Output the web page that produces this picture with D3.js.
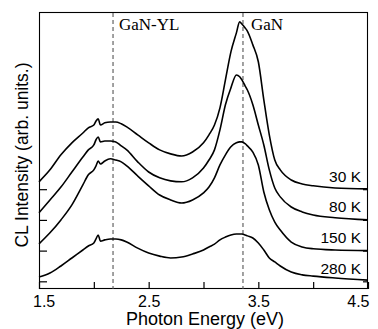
<!DOCTYPE html>
<html><head><meta charset="utf-8">
<script src="https://cdn.jsdelivr.net/npm/d3@7"></script>
<style>
html,body{margin:0;padding:0;background:#fff;}
svg{display:block;}
</style></head>
<body>
<svg id="chart" width="378" height="329"></svg>
<script>
// Photon energy grid (eV)
const energy = [1.50,1.60,1.70,1.80,1.90,1.95,2.00,2.02,2.04,2.06,2.10,2.15,2.20,2.25,2.30,2.40,2.50,2.60,2.70,2.80,2.90,3.00,3.05,3.10,3.15,3.20,3.25,3.30,3.33,3.35,3.38,3.40,3.45,3.50,3.55,3.60,3.65,3.70,3.80,3.90,4.00,4.20,4.50];
// CL intensity (arb. units), before vertical offset
const i30K  = [24,63,112,151,183,200,209,222,229,209,216,219,219,213,203,177,151,128,115,108,121,151,177,209,265,356,447,509,545,538,525,515,470,415,291,177,95,63,30,17,11,4,1];
const i80K  = [23,65,107,156,205,228,244,261,270,254,257,257,254,241,228,189,156,137,127,124,137,169,195,228,293,375,430,472,466,456,436,423,375,309,244,163,104,75,42,26,16,7,0];
const i150K = [22,58,100,149,214,247,263,276,292,282,292,299,295,289,276,243,211,181,165,155,165,188,207,237,279,312,338,351,354,354,348,341,321,279,191,133,93,67,28,12,6,2,0];
const i280K = [14,27,50,76,102,115,125,138,151,131,135,138,138,135,128,108,92,82,76,79,89,102,112,121,135,144,151,154,154,154,151,148,141,125,102,76,63,50,30,21,17,11,4];
const seriesNames = ["30 K","80 K","150 K","280 K"];
const seriesOffsets = [300,200,100,0];
const seriesValues = [i30K,i80K,i150K,i280K];
// axis ticks
const xTicks = [1.5,2.0,2.5,3.0,3.5,4.0,4.5];
const xTickLabels = ["1.5","","2.5","","3.5","","4.5"];
const yTicks = [0,100,200,300];
// reference lines
const refNames = ["GaN-YL","GaN"];
const refEnergy = [2.175,3.36];

const svg = d3.select("#chart");
const L=39, R=368, T=12, B=289;
const x = d3.scaleLinear().domain([1.5,4.5]).range([L,R]);
const y = d3.scaleLinear().domain([-25,877]).range([B,T]);
const sans = "'Liberation Sans', Arial, Helvetica, sans-serif";
const serif = "'Liberation Serif', 'Times New Roman', serif";

// axes
const xAxis = d3.axisBottom(x).tickValues(xTicks).tickSize(-7).tickPadding(6.5)
  .tickFormat((d,i)=>xTickLabels[i]);
const gx = svg.append("g").attr("transform",`translate(0,${B})`).call(xAxis);
gx.select(".domain").remove();
gx.selectAll("line").attr("stroke","#000").attr("stroke-width",1.2);
gx.selectAll("text").attr("font-family",sans).attr("font-size",16).attr("fill","#000");
// keep the edge labels inside the picture, as in the original
gx.selectAll(".tick text").each(function(d,i){
  const t = d3.select(this);
  if (i===0) t.attr("text-anchor","start").attr("x",-6.5);
  if (i===xTicks.length-1) t.attr("text-anchor","end").attr("x",1);
});

const gl = svg.append("g").attr("transform",`translate(${L},0)`)
  .call(d3.axisLeft(y).tickValues(yTicks).tickSize(-8).tickFormat(""));
gl.select(".domain").remove();
gl.selectAll("line").attr("stroke","#000").attr("stroke-width",1.2);

const gr = svg.append("g").attr("transform",`translate(${R},0)`)
  .call(d3.axisRight(y).tickValues(yTicks).tickSize(-5).tickFormat(""));
gr.select(".domain").remove();
gr.selectAll("line").attr("stroke","#000").attr("stroke-width",1.2);

// frame
svg.append("rect").attr("x",L+0.5).attr("y",T+0.5).attr("width",R-L-1).attr("height",B-T-1)
  .attr("fill","none").attr("stroke","#000").attr("stroke-width",1.1);

// dashed reference lines
refEnergy.forEach((e,i)=>{
  svg.append("line").attr("x1",x(e)).attr("x2",x(e)).attr("y1",T+1).attr("y2",B)
    .attr("stroke","#555").attr("stroke-width",1.1).attr("stroke-dasharray","4,3");
  svg.append("text").attr("x",x(e)+(i===0?6:8)).attr("y",29.5)
    .attr("font-family",serif).attr("font-size",17).attr("fill","#000").text(refNames[i]);
});

// curves
const line = d3.line().x(d=>x(d[0])).y(d=>y(d[1])).curve(d3.curveMonotoneX);
seriesValues.forEach((vals,k)=>{
  const pts = energy.map((e,i)=>[e, vals[i]+seriesOffsets[k]]);
  svg.append("path").datum(pts).attr("d",line).attr("fill","none")
    .attr("stroke","#000").attr("stroke-width",1.6).attr("stroke-linejoin","round");
  svg.append("text").attr("x",361).attr("y",y(seriesOffsets[k])-7.5)
    .attr("text-anchor","end").attr("font-family",sans).attr("font-size",15.5)
    .attr("fill","#000").text(seriesNames[k]);
});

// axis titles
svg.append("text").attr("x",205).attr("y",325).attr("text-anchor","middle")
  .attr("font-family",sans).attr("font-size",18).attr("fill","#000").text("Photon Energy (eV)");
svg.append("text").attr("transform","translate(27.5,155) rotate(-90)").attr("text-anchor","middle")
  .attr("font-family",sans).attr("font-size",17.5).attr("fill","#000").text("CL Intensity (arb. units.)");
</script>
</body></html>
